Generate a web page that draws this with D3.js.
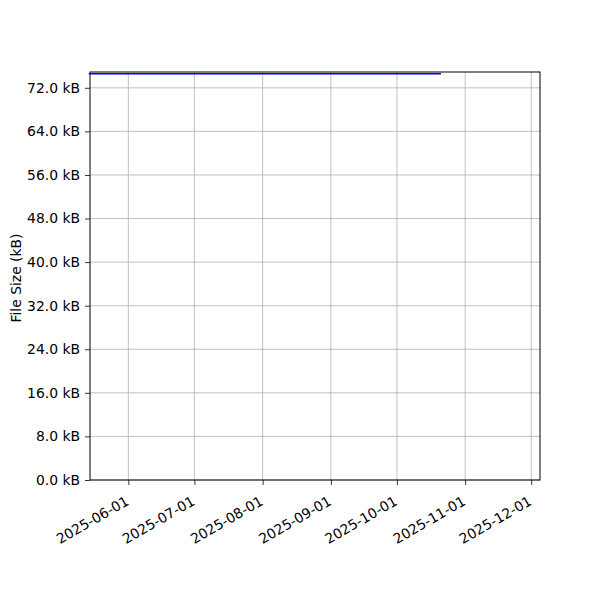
<!DOCTYPE html>
<html>
  <head>
    <meta charset="utf-8"/>
    <script src="https://cdn.jsdelivr.net/npm/d3@7"></script>
    <style type="text/css">

html, body {
  margin: 0;
  padding: 0;
  background: #fff;
}

svg text {
  font-family: "DejaVu Sans", sans-serif;
  fill: #000;
}

.grid line {
  stroke: #b0b0b0;
  stroke-width: 0.8px;
}

    </style>
  </head>
  <body>
    <div id="chart"></div>
    <script type="text/javascript">

// dates of the size samples and the file size (kB) at each
var dates = ["2025-05-14", "2025-06-15", "2025-07-20", "2025-08-25", "2025-09-30", "2025-10-21"];
var sizes = [74.6, 74.6, 74.6, 74.6, 74.6, 74.6];
var yTicks = [0, 8, 16, 24, 32, 40, 48, 56, 64, 72];
var xTicks = ["2025-06-01", "2025-07-01", "2025-08-01", "2025-09-01", "2025-10-01", "2025-11-01", "2025-12-01"];
var xDomain = ["2025-05-14T14:00", "2025-12-05T00:00"];

var parse = d3.isoParse;
var fmt = d3.timeFormat("%Y-%m-%d");

var data = dates.map(function(d, i) { return {date: parse(d), size: sizes[i]}; });

var width = 600, height = 600,
    margin = {top: 72, right: 60, bottom: 120, left: 90},
    fontSize = "13.9px";

var svg = d3.select("#chart").append("svg")
    .attr("width", width)
    .attr("height", height);

var x = d3.scaleTime()
    .domain(xDomain.map(parse))
    .range([margin.left, width - margin.right]);

var y = d3.scaleLinear()
    .domain([0, 74.9])
    .range([height - margin.bottom, margin.top]);

// grid
svg.append("g").attr("class", "grid")
  .selectAll("line").data(xTicks).enter().append("line")
    .attr("x1", function(d) { return x(parse(d)); })
    .attr("x2", function(d) { return x(parse(d)); })
    .attr("y1", margin.top)
    .attr("y2", height - margin.bottom);

svg.append("g").attr("class", "grid")
  .selectAll("line").data(yTicks).enter().append("line")
    .attr("x1", margin.left)
    .attr("x2", width - margin.right)
    .attr("y1", function(d) { return y(d); })
    .attr("y2", function(d) { return y(d); });

// axes
var xAxis = svg.append("g")
    .attr("transform", "translate(0," + (height - margin.bottom) + ")")
    .call(d3.axisBottom(x)
      .tickValues(xTicks.map(parse))
      .tickFormat(fmt)
      .tickSize(5)
      .tickPadding(4));

xAxis.selectAll("text")
    .style("font-size", fontSize)
    .attr("text-anchor", "end")
    .attr("y", 0)
    .attr("dx", "0")
    .attr("dy", "0")
    .attr("transform", "translate(1,24) rotate(-30)");

var yAxis = svg.append("g")
    .attr("transform", "translate(" + margin.left + ",0)")
    .call(d3.axisLeft(y)
      .tickValues(yTicks)
      .tickFormat(function(d) { return d3.format(".1f")(d) + " kB"; })
      .tickSize(5)
      .tickPadding(5));

yAxis.selectAll("text").style("font-size", fontSize);

[xAxis, yAxis].forEach(function(a) {
  a.select(".domain").remove();
  a.selectAll(".tick line").attr("stroke", "#000").attr("stroke-width", 0.8);
});

// frame
svg.append("rect")
    .attr("x", margin.left)
    .attr("y", margin.top)
    .attr("width", width - margin.left - margin.right)
    .attr("height", height - margin.top - margin.bottom)
    .attr("fill", "none")
    .attr("stroke", "#000")
    .attr("stroke-width", 1);

// the line, drawn over the frame so the blue shows under the top spine
svg.append("path")
    .datum(data)
    .attr("fill", "none")
    .attr("stroke", "#0000ff")
    .attr("stroke-width", 1.5)
    .attr("d", d3.line()
      .x(function(d) { return x(d.date); })
      .y(function(d) { return y(d.size); }));

svg.append("text")
    .attr("transform", "translate(21,278) rotate(-90)")
    .attr("text-anchor", "middle")
    .style("font-size", fontSize)
    .text("File Size (kB)");

    </script>
  </body>
</html>
